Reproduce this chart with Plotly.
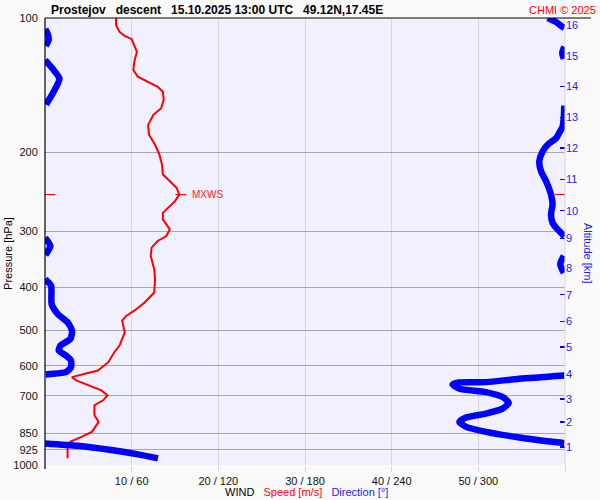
import math
import plotly.graph_objects as go

# ---------------- data ----------------
speed_p = [100.0, 103.8, 107.4, 109.7, 111.5, 115.0, 119.1, 125.3, 130.8, 135.3, 138.9, 142.5,
           146.2, 152.5, 159.2, 164.7, 173.4, 182.5, 192.1, 202.2, 212.8, 224.0, 231.8, 240.0,
           248.3, 256.9, 265.9, 272.8, 282.2, 297.1, 307.4, 315.4, 326.4, 340.6, 364.7, 383.9,
           411.2, 432.8, 451.6, 463.4, 475.4, 504.9, 540.5, 559.4, 588.8, 614.5, 625.0, 636.0,
           646.8, 663.6, 680.8, 698.5, 716.6, 735.2, 773.9, 800.9, 843.0, 864.9, 887.4, 918.0, 966.2]
speed = [8.2, 8.2, 8.6, 9.2, 10.0, 10.3, 10.6, 10.3, 10.2, 10.7, 11.9, 13.0,
         13.6, 13.7, 13.4, 12.5, 11.9, 12.0, 12.7, 13.2, 13.5, 13.6, 14.4, 15.2,
         15.5, 15.0, 14.2, 13.6, 13.6, 14.4, 14.0, 13.0, 12.3, 12.2, 12.6, 12.7,
         12.6, 11.5, 10.3, 9.4, 8.9, 9.2, 8.6, 8.0, 7.3, 6.1, 4.6, 3.1,
         3.6, 5.0, 6.5, 7.2, 6.7, 5.7, 5.7, 6.2, 5.4, 4.2, 2.9, 2.6, 2.6]

dir_p = [100.0, 102.1, 104.7, 105.3, 105.8, 108.6, 111.9, 115.4, 116.0, 119.7, 123.4, 124.2,
         129.9, 136.7, 146.2, 156.2, 157.0, 166.1, 175.0, 180.4, 185.8, 192.1, 198.8, 209.3,
         220.3, 231.8, 248.3, 261.3, 275.1, 287.2, 297.1, 304.3, 309.0, 310.1, 323.6, 338.9,
         340.6, 355.4, 371.7, 383.9, 397.3, 436.4, 459.4, 479.6, 500.5, 522.3, 540.5, 554.5,
         568.9, 583.7, 604.1, 619.7, 625.5, 627.1, 630.3, 641.2, 652.5, 653.5, 660.2, 675.0,
         686.8, 704.6, 726.6, 747.8, 767.2, 783.1, 800.9, 821.7, 843.0, 867.6, 887.4, 893.4,
         894.8, 905.8, 926.0, 946.7, 966.2]
direction = [348, 353.8, 358.3, 359.5, 0.2, 1.9, 2.6, 0.5, 359.5, 358.1, 359.2, 0.1,
             5.3, 10.0, 6.0, 0.7, 359.5, 359.2, 358.3, 356.1, 353.8, 348.0, 344.5, 342.2,
             343.4, 346.9, 350.3, 351.4, 350.3, 351.4, 354.9, 358.1, 359.5, 0.1, 3.7, 0.3,
             359.2, 356.7, 359.2, 0.1, 4.2, 4.6, 8.8, 15.7, 18.7, 17.6, 10.7, 9.5,
             14.5, 18.0, 18.0, 14.5, 3.3, 0.5, 359.5, 328.4, 305.3, 286.9, 282.2, 286.9,
             305.3, 316.8, 321.0, 316.8, 305.3, 291.5, 286.9, 291.5, 305.3, 328.4, 351.4, 359.5,
             0.1, 22.8, 45.9, 64.3, 78.2]

p_ticks = [100, 200, 300, 400, 500, 600, 700, 850, 925, 1000]
x_ticks = [10, 20, 30, 40, 50]
x_ticktext = ["10 / 60", "20 / 120", "30 / 180", "40 / 240", "50 / 300"]
alt_km = [1, 2, 3, 4, 5, 6, 7, 8, 9, 10, 11, 12, 13, 14, 15, 16]
alt_p = [910.4, 800.7, 711.9, 624.9, 545.1, 477.0, 416.0, 362.8, 311.4, 269.8,
         229.8, 195.5, 167.0, 142.4, 121.7, 103.5]

title_text = "Prostejov\u00a0\u00a0 descent\u00a0\u00a0 15.10.2025 13:00 UTC\u00a0\u00a0 49.12N,17.45E"

# ---------------- build ----------------
FONT = "Liberation Sans, Arial, sans-serif"
RED = "#ff0000"
BLUE = "#0000ff"

# break the direction line where it wraps across 0/360
bx, by = [], []
for i, (d, p) in enumerate(zip(direction, dir_p)):
    if i > 0 and abs(d - direction[i - 1]) > 180:
        bx.append(None)
        by.append(None)
    bx.append(d)
    by.append(p)

imax = max(range(len(speed)), key=lambda i: speed[i])
vmax, pmax = speed[imax], speed_p[imax]

fig = go.Figure()
fig.add_trace(go.Scatter(x=bx, y=by, mode="lines", xaxis="x2", yaxis="y",
                         line=dict(color=BLUE, width=6.5, shape="spline", smoothing=0.6),
                         connectgaps=False, hoverinfo="skip", showlegend=False))
fig.add_trace(go.Scatter(x=speed, y=speed_p, mode="lines",
                         line=dict(color=RED, width=2), hoverinfo="skip", showlegend=False))
# max wind marks
for xs in ([0, 1.2], [58.8, 60], [vmax - 0.45, vmax + 0.8]):
    fig.add_trace(go.Scatter(x=xs, y=[pmax, pmax], mode="lines",
                             line=dict(color=RED, width=1.2), hoverinfo="skip", showlegend=False))
# invisible trace to carry the altitude axis
fig.add_trace(go.Scatter(x=[None], y=[None], yaxis="y2", showlegend=False, hoverinfo="skip"))

W, H = 600, 500
L, R, T, B = 45, 35, 16, 35
pw, ph = W - L - R, H - T - B


def px_x(x):
    return (x - L) / pw


def px_y(y):
    return (H - B - y) / ph


fig.update_layout(
    width=W, height=H,
    margin=dict(l=L, r=R, t=T, b=B, pad=0),
    paper_bgcolor="#fafafa",
    plot_bgcolor="#f0f0ff",
    font=dict(family=FONT, size=11, color="#000000"),
    xaxis=dict(range=[0, 60], tickvals=x_ticks + [60], ticktext=x_ticktext + [""],
               showgrid=True, gridcolor="#d6d6de", gridwidth=1,
               ticks="outside", ticklen=6, tickcolor="#d6d6de",
               showline=False, zeroline=False, tickfont=dict(size=11, color="#111")),
    xaxis2=dict(range=[0, 360], overlaying="x", visible=False),
    yaxis=dict(type="log", range=[3, 2], tickvals=p_ticks, ticktext=[str(v) for v in p_ticks],
               showgrid=True, gridcolor="#a8a8a8", gridwidth=1,
               ticks="outside", ticklen=4, tickcolor="rgba(0,0,0,0)",
               showline=False, zeroline=False, tickfont=dict(size=11, color="#111")),
    yaxis2=dict(type="log", range=[3, 2], overlaying="y", side="right",
                tickvals=alt_p, ticktext=[str(k) for k in alt_km],
                ticks="inside", ticklen=5, tickcolor=BLUE, tickwidth=1.5,
                showgrid=False, zeroline=False, showline=False,
                tickfont=dict(size=11, color="#2222ee")),
    shapes=[
        # light right border
        dict(type="line", xref="paper", yref="paper", x0=1, x1=1, y0=0, y1=1,
             line=dict(color="#d6d6de", width=1)),
        # black left axis line
        dict(type="line", xref="paper", yref="paper", x0=0, x1=0, y0=-4 / ph, y1=1,
             line=dict(color="#000", width=1.2)),
        # black top line
        dict(type="line", xref="paper", yref="paper", x0=0, x1=px_x(591), y0=1, y1=1,
             line=dict(color="#000", width=1.2)),
    ],
    annotations=[
        dict(text="<b>" + title_text + "</b>", xref="paper", yref="paper",
             x=px_x(49), y=px_y(8), xanchor="left", yanchor="middle", showarrow=False,
             font=dict(size=12, color="#000")),
        dict(text="CHMI © 2025", xref="paper", yref="paper",
             x=px_x(598), y=px_y(8), xanchor="right", yanchor="middle", showarrow=False,
             font=dict(size=11, color=RED)),
        dict(text="Pressure [hPa]", xref="paper", yref="paper", textangle=-90,
             x=px_x(8), y=px_y(253), xanchor="center", yanchor="middle", showarrow=False,
             font=dict(size=11, color="#000")),
        dict(text="Altitude [km]", xref="paper", yref="paper", textangle=90,
             x=px_x(588), y=px_y(252), xanchor="center", yanchor="middle", showarrow=False,
             font=dict(size=11, color="#2222ee")),
        dict(text="WIND\u00a0\u00a0 <span style='color:#ff0000'>Speed [m/s]</span>\u00a0\u00a0 "
                  "<span style='color:#2222ee'>Direction [°]</span>",
             xref="paper", yref="paper", x=px_x(306), y=px_y(492),
             xanchor="center", yanchor="middle", showarrow=False,
             font=dict(size=11, color="#000")),
        dict(text="MXWS", xref="x", yref="y", x=vmax + 1.2, y=math.log10(pmax),
             xanchor="left", yanchor="middle", showarrow=False,
             font=dict(size=10, color="#ff2222")),
    ],
)

fig.write_html("out.html",
               config={"displayModeBar": False, "staticPlot": True},
               post_script="document.body.style.margin='0';document.body.style.padding='0';"
                           "document.body.style.overflow='hidden';")
